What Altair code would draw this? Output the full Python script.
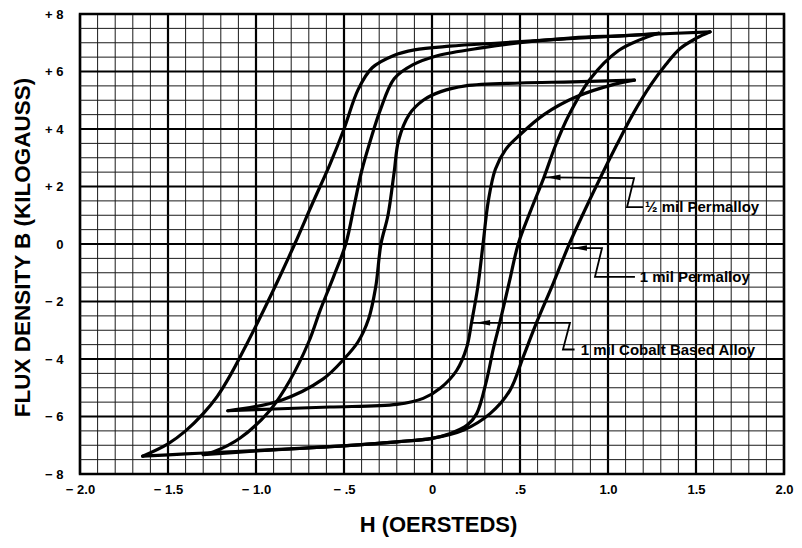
import altair as alt
import pandas as pd

# ---------------- data ----------------
# 1 mil Permalloy (widest loop)
p1_desc_h = [1.58, 1.2, 0.8, 0.4, 0.1, -0.1, -0.22, -0.34, -0.42, -0.5, -0.58, -0.68, -0.78, -0.87, -0.96, -1.05, -1.14, -1.22, -1.30, -1.40, -1.50, -1.644]
p1_desc_b = [7.38, 7.28, 7.15, 7.0, 6.88, 6.75, 6.55, 6.13, 5.37, 4.0, 2.77, 1.4, 0.0, -1.2, -2.35, -3.45, -4.5, -5.3, -5.9, -6.5, -6.95, -7.38]
p1_asc_h = [-1.644, -1.4, -1.15, -0.58, -0.2, 0.0, 0.18, 0.33, 0.443, 0.52, 0.595, 0.69, 0.78, 0.87, 0.96, 1.05, 1.14, 1.245, 1.33, 1.41, 1.5, 1.58]
p1_asc_b = [-7.38, -7.3, -7.23, -7.05, -6.88, -6.76, -6.47, -5.9, -5.09, -3.9, -2.72, -1.35, 0.0, 1.2, 2.35, 3.45, 4.5, 5.55, 6.25, 6.8, 7.15, 7.38]

# 1/2 mil Permalloy (middle loop)
p2_desc_h = [1.288, 1.1, 0.8, 0.5, 0.29, 0.03, -0.11, -0.215, -0.295, -0.35, -0.40, -0.44, -0.49, -0.56, -0.635, -0.70, -0.807, -0.92, -1.09, -1.24, -1.3]
p2_desc_b = [7.33, 7.25, 7.17, 7.0, 6.83, 6.55, 6.23, 5.75, 4.64, 3.6, 2.53, 1.4, 0.0, -1.15, -2.3, -3.4, -4.74, -5.78, -6.75, -7.23, -7.33]
p2_asc_h = [-1.3, -1.0, -0.58, -0.2, 0.0, 0.10, 0.2, 0.254, 0.31, 0.35, 0.386, 0.44, 0.49, 0.56, 0.635, 0.70, 0.775, 0.90, 1.06, 1.18, 1.288]
p2_asc_b = [-7.33, -7.2, -7.05, -6.88, -6.76, -6.6, -6.3, -5.9, -4.74, -3.6, -2.72, -1.3, 0.0, 1.15, 2.3, 3.4, 4.45, 5.75, 6.73, 7.1, 7.33]

# 1 mil Cobalt Based Alloy (narrow loop)
c_desc_h = [1.15, 0.8, 0.5, 0.19, 0.05, -0.05, -0.13, -0.19, -0.215, -0.25, -0.29, -0.32, -0.36, -0.42, -0.5, -0.62, -0.86, -1.16]
c_desc_b = [5.7, 5.64, 5.6, 5.5, 5.3, 5.0, 4.5, 3.6, 2.5, 1.0, 0.0, -1.5, -2.6, -3.4, -4.0, -4.7, -5.44, -5.8]
c_asc_h = [-1.16, -0.9, -0.58, -0.2, -0.05, 0.05, 0.14, 0.197, 0.225, 0.26, 0.29, 0.32, 0.36, 0.42, 0.5, 0.636, 0.82, 1.04, 1.15]
c_asc_b = [-5.8, -5.74, -5.67, -5.58, -5.37, -5.0, -4.4, -3.6, -2.72, -1.5, 0.0, 1.5, 2.6, 3.3, 3.8, 4.5, 5.12, 5.56, 5.7]

# axis ticks and labels
x_ticks = [-2.0, -1.5, -1.0, -0.5, 0.0, 0.5, 1.0, 1.5, 2.0]
x_tick_labels = ["\u2212 2.0", "\u2212 1.5", "\u2212 1.0", "\u2212 .5", "0", ".5", "1.0", "1.5", "2.0"]
y_ticks = [-8, -6, -4, -2, 0, 2, 4, 6, 8]
y_tick_labels = ["\u2212 8", "\u2212 6", "\u2212 4", "\u2212 2", "0", "+ 2", "+ 4", "+ 6", "+ 8"]

# annotations (label, leader path H, leader path B, arrow head H/B, text H/B)
ann_labels = ["\u00bd mil Permalloy", "1 mil Permalloy", "1 mil Cobalt Based Alloy"]
ann_path_h = [[0.638, 1.148, 1.108, 1.199], [0.784, 0.966, 0.926, 1.153], [0.233, 0.784, 0.744, 0.81]]
ann_path_b = [[2.32, 2.29, 1.28, 1.28], [-0.14, -0.14, -1.14, -1.14], [-2.74, -2.74, -3.67, -3.67]]
ann_head_h = [0.69, 0.84, 0.29]
ann_head_b = [2.32, -0.14, -2.74]
ann_text_h = [1.21, 1.18, 0.845]
ann_text_b = [1.28, -1.14, -3.67]

# grid positions
minor_x = [round(-2.0 + 0.1 * i, 2) for i in range(41)]
major_x = [round(-2.0 + 0.5 * i, 2) for i in range(9)]
minor_y = [round(-8.0 + 0.5 * i, 2) for i in range(33)]
major_y = [round(-8.0 + 2.0 * i, 2) for i in range(9)]

# ---------------- tables ----------------
rows = []
for loop, branches in [("1 mil Permalloy", [("desc", p1_desc_h, p1_desc_b), ("asc", p1_asc_h, p1_asc_b)]),
                       ("1/2 mil Permalloy", [("desc", p2_desc_h, p2_desc_b), ("asc", p2_asc_h, p2_asc_b)]),
                       ("1 mil Cobalt", [("desc", c_desc_h, c_desc_b), ("asc", c_asc_h, c_asc_b)])]:
    for br, hs, bs in branches:
        for i, (h, b) in enumerate(zip(hs, bs)):
            rows.append({"key": loop + "-" + br, "i": i, "H": h, "B": b})
curves = pd.DataFrame(rows)

lrows = []
for k, (hs, bs) in enumerate(zip(ann_path_h, ann_path_b)):
    for i, (h, b) in enumerate(zip(hs, bs)):
        lrows.append({"key": k, "i": i, "H": h, "B": b})
leaders = pd.DataFrame(lrows)
heads = pd.DataFrame({"H": ann_head_h, "B": ann_head_b})
texts = pd.DataFrame({"H": ann_text_h, "B": ann_text_b, "label": ann_labels})

xscale = alt.Scale(domain=[-2, 2], nice=False, zero=False)
yscale = alt.Scale(domain=[-8, 8], nice=False, zero=False)

font = "Liberation Sans"

x_label_expr = "[" + ",".join("'%s'" % s for s in x_tick_labels) + "][indexof([" + ",".join(str(v) for v in x_ticks) + "], datum.value)]"
y_label_expr = "[" + ",".join("'%s'" % s for s in y_tick_labels) + "][indexof([" + ",".join(str(v) for v in y_ticks) + "], datum.value)]"

xaxis = alt.Axis(values=x_ticks, labelExpr=x_label_expr, grid=False, ticks=False, domain=False,
                 labelFont=font, labelFontSize=13, labelFontWeight="bold", labelColor="black",
                 labelPadding=9, labelFlush=False, labelOverlap=False,
                 title="H (OERSTEDS)", titleFont=font, titleFontSize=22, titleFontWeight="bold",
                 titleColor="black", titleBaseline="middle", titleY=50, titleX=358)
yaxis = alt.Axis(values=y_ticks, labelExpr=y_label_expr, grid=False, ticks=False, domain=False,
                 labelFont=font, labelFontSize=13, labelFontWeight="bold", labelColor="black",
                 labelPadding=17, labelFlush=False, labelOverlap=False,
                 title="FLUX DENSITY B (KILOGAUSS)", titleFont=font, titleFontSize=22.5,
                 titleFontWeight="bold", titleColor="black", titleAngle=-90,
                 titleBaseline="middle", titleAlign="center", titleX=-58, titleY=233)

minor_v = alt.Chart(pd.DataFrame({"H": minor_x})).mark_rule(color="#1a1a1a", strokeWidth=1).encode(
    x=alt.X("H:Q", scale=xscale, axis=xaxis))
major_v = alt.Chart(pd.DataFrame({"H": major_x})).mark_rule(color="black", strokeWidth=2.2).encode(
    x=alt.X("H:Q", scale=xscale))
minor_hz = alt.Chart(pd.DataFrame({"B": minor_y})).mark_rule(color="#1a1a1a", strokeWidth=1).encode(
    y=alt.Y("B:Q", scale=yscale, axis=yaxis))
major_hz = alt.Chart(pd.DataFrame({"B": major_y})).mark_rule(color="black", strokeWidth=2.2).encode(
    y=alt.Y("B:Q", scale=yscale))

loops = alt.Chart(curves).mark_line(color="black", strokeWidth=3.2, interpolate="catmull-rom",
                                    strokeCap="round", strokeJoin="round").encode(
    x=alt.X("H:Q", scale=xscale),
    y=alt.Y("B:Q", scale=yscale),
    detail="key:N",
    order="i:Q")

leader_lines = alt.Chart(leaders).mark_line(color="black", strokeWidth=1.8).encode(
    x=alt.X("H:Q", scale=xscale),
    y=alt.Y("B:Q", scale=yscale),
    detail="key:N",
    order="i:Q")

arrow_heads = alt.Chart(heads).mark_point(shape="M-1,0L1,-0.4L1,0.4Z", filled=True, color="black",
                                          size=200, opacity=1).encode(
    x=alt.X("H:Q", scale=xscale),
    y=alt.Y("B:Q", scale=yscale))

labels = alt.Chart(texts).mark_text(align="left", baseline="middle", font=font, fontSize=15,
                                    fontWeight="bold", color="black").encode(
    x=alt.X("H:Q", scale=xscale),
    y=alt.Y("B:Q", scale=yscale),
    text="label:N")

chart = alt.layer(minor_v, major_v, minor_hz, major_hz, loops, leader_lines, arrow_heads, labels).properties(
    width=704, height=460,
    autosize=alt.AutoSizeParams(type="none"),
    padding={"left": 72, "top": 6, "right": 10, "bottom": 66},
    background="white",
).configure_view(stroke="black", strokeWidth=2.5)

chart.save("out.html", embed_options={"renderer": "svg", "actions": False})
